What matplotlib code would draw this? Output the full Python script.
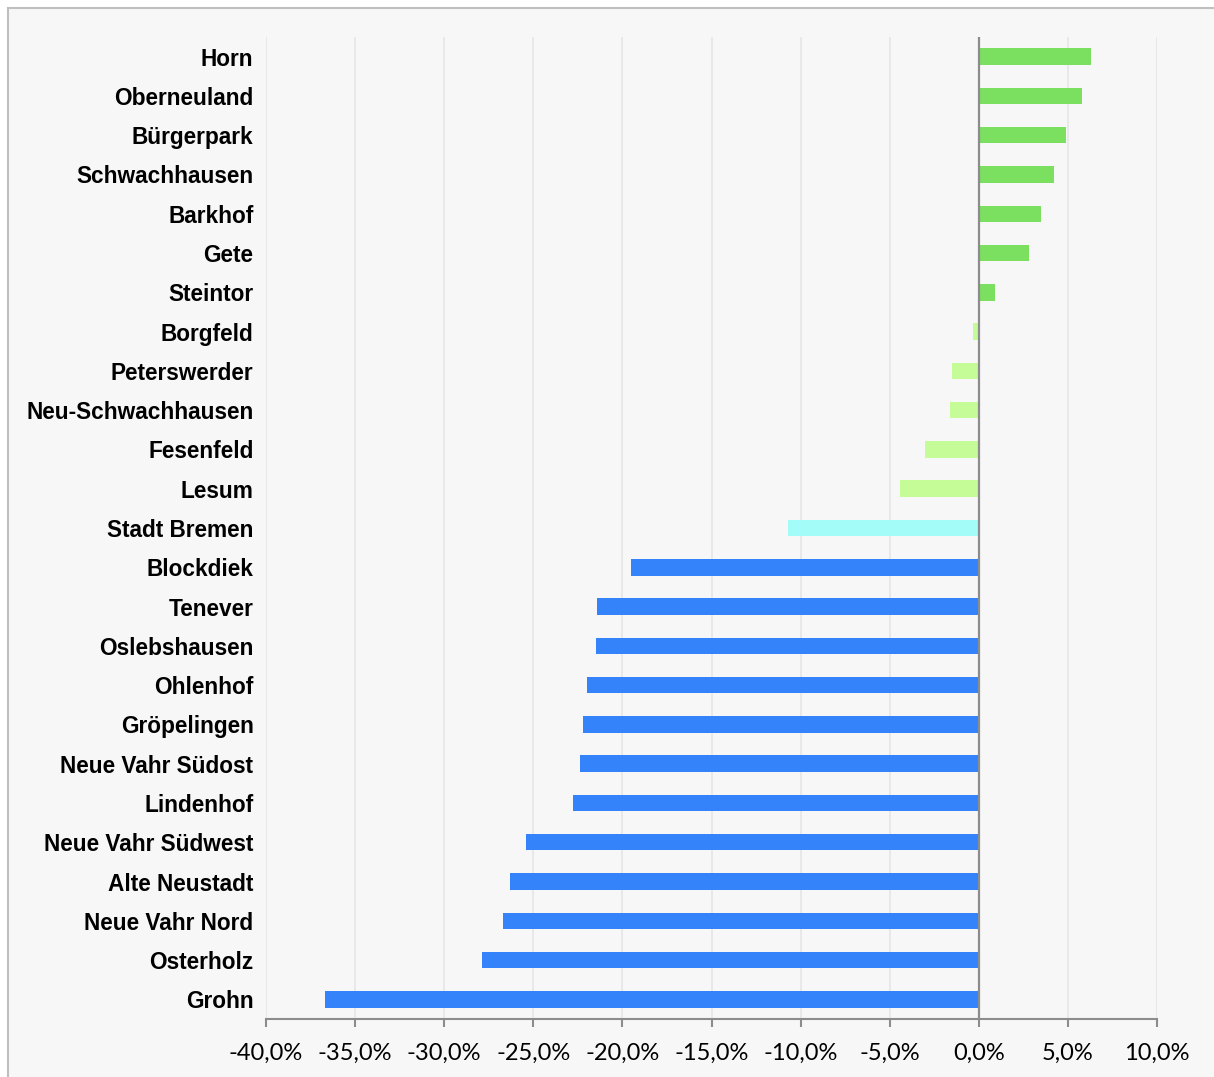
import matplotlib.pyplot as plt
from matplotlib.patches import Rectangle
from matplotlib.ticker import MultipleLocator, FuncFormatter

# Daten
stadtteile = ['Horn', 'Oberneuland', 'Bürgerpark', 'Schwachhausen', 'Barkhof', 'Gete',
              'Steintor', 'Borgfeld', 'Peterswerder', 'Neu-Schwachhausen', 'Fesenfeld',
              'Lesum', 'Stadt Bremen', 'Blockdiek', 'Tenever', 'Oslebshausen', 'Ohlenhof',
              'Gröpelingen', 'Neue Vahr Südost', 'Lindenhof', 'Neue Vahr Südwest',
              'Alte Neustadt', 'Neue Vahr Nord', 'Osterholz', 'Grohn']
werte = [6.3, 5.8, 4.9, 4.2, 3.5, 2.8, 0.9, -0.3, -1.5, -1.6, -3.0, -4.4, -10.7,
         -19.5, -21.4, -21.5, -22.0, -22.2, -22.4, -22.8, -25.4, -26.3, -26.7,
         -27.9, -36.7]
gruppe = ['pos'] * 7 + ['neg_klein'] * 5 + ['stadt'] + ['neg_gross'] * 12
farben = {'pos': '#7BDF5F', 'neg_klein': '#C5FC97', 'stadt': '#A3FCF8', 'neg_gross': '#3583FB'}

fig = plt.figure(figsize=(12.14, 10.77), dpi=100)
fig.patch.set_facecolor('white')
fig.patches.append(Rectangle((8 / 1214, -0.1), 1.2, 0.1 + (1 - 8 / 1077),
                             transform=fig.transFigure, facecolor='#f7f7f7',
                             edgecolor='#bfbfbf', linewidth=1.5, zorder=-10))

ax = fig.add_axes([266 / 1214, 1 - 1019 / 1077, (1157 - 266) / 1214, (1019 - 37) / 1077])
ax.set_facecolor('#f7f7f7')

y = list(range(len(stadtteile)))
ax.barh(y, werte, height=0.42, color=[farben[g] for g in gruppe], zorder=3)

ax.set_xlim(-40, 10)
ax.set_ylim(len(stadtteile) - 0.5, -0.5)
ax.xaxis.set_major_locator(MultipleLocator(5))
ax.xaxis.set_major_formatter(FuncFormatter(lambda v, p: f'{v:.1f}%'.replace('.', ',')))

ax.grid(axis='x', color='#e6e6e6', linewidth=1.2, zorder=0)
ax.axvline(0, color='#8c8c8c', linewidth=1.6, zorder=4)

for s in ['top', 'right', 'left']:
    ax.spines[s].set_visible(False)
ax.spines['bottom'].set_color('#8c8c8c')
ax.spines['bottom'].set_linewidth(1.5)

ax.set_yticks(y)
ax.set_yticklabels(stadtteile, fontsize=16.3, fontweight='bold', family='Liberation Sans')
ax.tick_params(axis='y', length=0, pad=9)
ax.tick_params(axis='x', length=6, width=1.5, color='#8c8c8c', pad=11)
for lbl in ax.get_xticklabels():
    lbl.set_fontfamily('Lato')
    lbl.set_fontsize(17)

plt.savefig('out.png', dpi=100, facecolor=fig.get_facecolor())
